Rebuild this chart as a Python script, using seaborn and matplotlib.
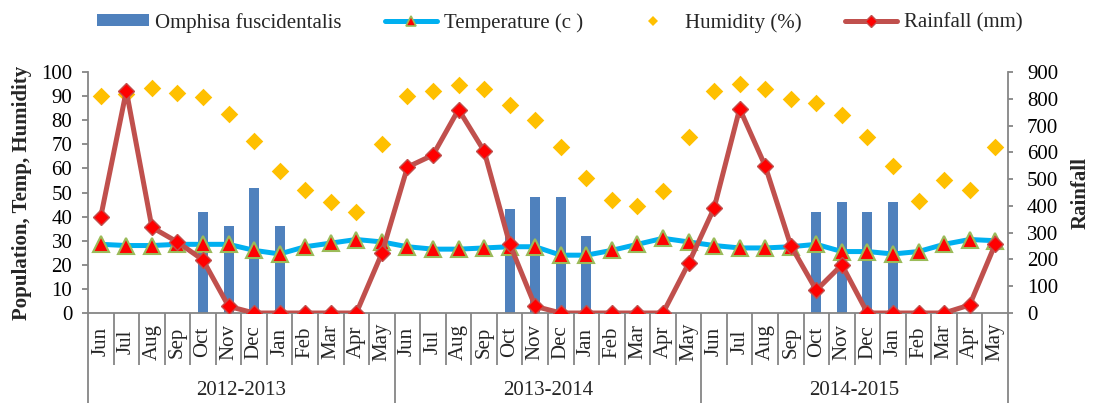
import numpy as np
import pandas as pd
import matplotlib
matplotlib.use("Agg")
import matplotlib.pyplot as plt
import matplotlib.transforms as mtransforms
from matplotlib.lines import Line2D
from matplotlib.patches import Patch
import seaborn as sns

# ---- data -------------------------------------------------------------
seasons = ["2012-2013", "2013-2014", "2014-2015"]
months = ["Jun", "Jul", "Aug", "Sep", "Oct", "Nov",
          "Dec", "Jan", "Feb", "Mar", "Apr", "May"]

population = [0, 0, 0, 0, 42, 36, 52, 36, 0, 0, 0, 0,
              0, 0, 0, 0, 43, 48, 48, 32, 0, 0, 0, 0,
              0, 0, 0, 0, 42, 46, 42, 46, 0, 0, 0, 0]

temperature = [28.5, 28, 28, 28.5, 28.5, 28.5, 26, 24.5, 27.5, 29, 30.5, 29.5,
               27.5, 26.5, 26.5, 27, 27.5, 27.5, 24, 24, 26, 28.5, 31, 29.5,
               28, 27, 27, 27.5, 28.5, 25.5, 25.5, 24.5, 25.5, 28.5, 30.5, 30]

humidity = [90, 91, 93.5, 91.5, 89.5, 82.5, 71.5, 59, 51, 46, 42, 70,
            90, 92, 94.5, 93, 86.5, 80, 69, 56, 47, 44.5, 50.5, 73,
            92, 95, 93, 89, 87, 82, 73, 61, 46.5, 55, 51, 69]

rainfall = [360, 830, 320, 265, 198, 25, 0, 0, 0, 0, 0, 223,
            545, 590, 760, 605, 258, 25, 0, 0, 0, 0, 0, 185,
            392, 763, 549, 252, 85, 180, 0, 0, 0, 0, 30, 257]

df = pd.DataFrame({
    "pos": np.arange(len(population)),
    "season": np.repeat(seasons, len(months)),
    "month": months * len(seasons),
    "population": population,
    "temperature": temperature,
    "humidity": humidity,
    "rainfall": rainfall,
})

# ---- style ------------------------------------------------------------
sns.set_theme(style="white")
plt.rcParams["font.family"] = ["Liberation Serif", "DejaVu Serif"]
plt.rcParams["font.size"] = 15

GRAY = "#868686"
BAR = "#4F81BD"
TEMP = "#00B0F0"
HUM = "#FFC000"
RAIN = "#C0504D"

fig = plt.figure(figsize=(10.96, 4.03), dpi=100)
ax = fig.add_axes([0.0803, 0.2233, 0.8394, 0.5980])

sns.barplot(data=df, x="pos", y="population", color=BAR, width=0.39,
            saturation=1, errorbar=None, linewidth=0, ax=ax)
sns.lineplot(data=df, x="pos", y="temperature", ax=ax, color=TEMP, lw=3.6,
             marker="^", markersize=11, markerfacecolor="#FF0000",
             markeredgecolor="#9BBB59", markeredgewidth=1.5, errorbar=None,
             zorder=3)
sns.scatterplot(data=df, x="pos", y="humidity", ax=ax, marker="D", s=80,
                color=HUM, linewidth=0, zorder=4)

ax2 = ax.twinx()
sns.lineplot(data=df, x="pos", y="rainfall", ax=ax2, color=RAIN, lw=3.6,
             marker="D", markersize=8.5, markerfacecolor="#FF0000",
             markeredgecolor=RAIN, markeredgewidth=1.0, errorbar=None)

# ---- axes -------------------------------------------------------------
n = len(df)
ax.set_xlim(-0.5, n - 0.5)
ax.set_ylim(0, 100)
ax2.set_ylim(0, 900)
ax.set_yticks(range(0, 101, 10))
ax2.set_yticks(range(0, 901, 100))

group_edges = [k * len(months) - 0.5 for k in range(len(seasons) + 1)]
month_edges = [i + 0.5 for i in range(n - 1) if (i + 1) % len(months) != 0]
ax.set_xticks(group_edges)
ax.set_xticks(month_edges, minor=True)
ax.tick_params(axis="x", which="major", bottom=True, direction="out",
               length=65, width=1.3, color=GRAY, labelbottom=False)
ax.tick_params(axis="x", which="minor", bottom=True, direction="out",
               length=37.5, width=1.3, color=GRAY, labelbottom=False)
ax.tick_params(axis="y", which="major", left=True, direction="out",
               length=4.3, width=1.3, color=GRAY, pad=7, labelsize=15,
               labelcolor="black")
ax2.tick_params(axis="y", which="major", right=True, direction="out",
                length=3.6, width=1.3, color=GRAY, pad=10, labelsize=15,
                labelcolor="black")

for name, sp in ax.spines.items():
    sp.set_color(GRAY)
    sp.set_linewidth(1.3)
    sp.set_visible(name in ("left", "bottom"))
for name, sp in ax2.spines.items():
    sp.set_color(GRAY)
    sp.set_linewidth(1.3)
    sp.set_visible(name == "right")

ax.set_xlabel("")
ax2.set_xlabel("")
ax.set_ylabel("Population, Temp, Humidity", fontweight="bold", fontsize=15)
ax.yaxis.set_label_coords(-0.0605, 0.5)
ax2.set_ylabel("Rainfall", fontweight="bold", fontsize=15)
ax2.yaxis.set_label_coords(1.0685, 0.5)

# two-level category labels: months, then seasons
trans = mtransforms.blended_transform_factory(ax.transData, ax.transAxes)
for i, m in enumerate(df["month"]):
    ax.text(i, -0.12, m, transform=trans, rotation=90, ha="center",
            va="center", fontsize=15)
for k, s in enumerate(seasons):
    ax.text(k * len(months) + (len(months) - 1) / 2, -0.3195, s,
            transform=trans, ha="center", va="center", fontsize=15)

# ---- legend -----------------------------------------------------------
handles = [
    Patch(facecolor=BAR, edgecolor="none", label="Omphisa fuscidentalis"),
    Line2D([], [], color=TEMP, lw=3.6, marker="^", ms=7, mfc="#FF0000",
           mec="#9BBB59", mew=1.2, label="Temperature (c )"),
    Line2D([], [], ls="none", marker="D", ms=5.5, color=HUM, mew=0,
           label="Humidity (%)"),
    Line2D([], [], color=RAIN, lw=3.6, marker="D", ms=6, mfc="#FF0000",
           mec=RAIN, mew=1, label="Rainfall (mm)"),
]
fig.legend(handles=handles, loc="center", bbox_to_anchor=(0.5105, 0.944),
           ncol=4, frameon=False, fontsize=15, handlelength=2.5,
           handletextpad=0.3, columnspacing=2.1, handleheight=0.5)

fig.savefig("out.png", dpi=100)
